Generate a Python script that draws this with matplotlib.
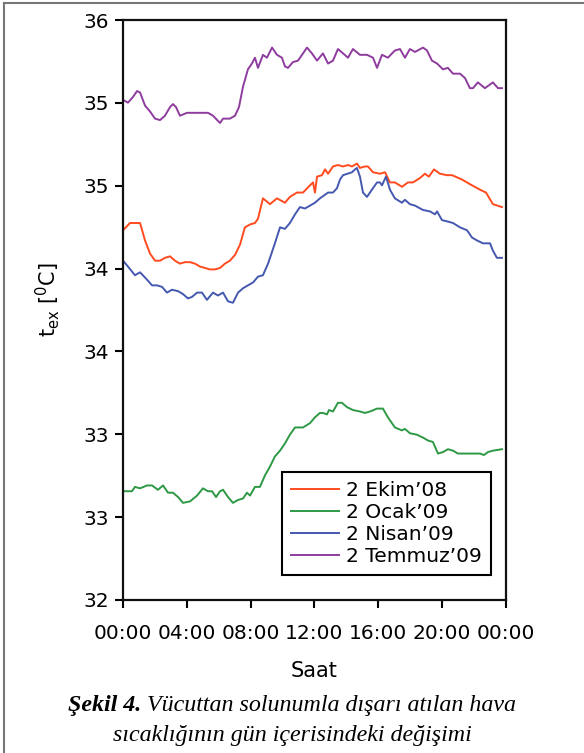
import numpy as np
from matplotlib import pyplot as plt
from matplotlib.lines import Line2D

plt.rcParams['font.family'] = 'DejaVu Sans'
plt.rcParams['mathtext.fontset'] = 'dejavusans'

# saat (0-24) ve sicaklik degerleri
t_ekim = [0, 0.44, 1.07, 1.38, 1.69, 2.01, 2.32, 2.63, 2.95, 3.26, 3.57, 3.88, 4.20, 4.51, 4.82,
          5.14, 5.45, 5.76, 6.08, 6.39, 6.70, 7.02, 7.33, 7.64, 7.96, 8.27, 8.46, 8.77, 9.21, 9.65,
          10.15, 10.46, 10.90, 11.28, 11.72, 11.91, 12.03, 12.16, 12.47, 12.66, 12.85, 13.16, 13.47,
          13.79, 14.10, 14.35, 14.66, 14.85, 15.16, 15.35, 15.67, 16.10, 16.42, 16.73, 17.04, 17.48,
          17.86, 18.17, 18.61, 18.92, 19.17, 19.49, 19.86, 20.30, 20.62, 21.24, 21.87, 22.37, 22.75,
          23.18, 23.75]
v_ekim = [34.55, 34.60, 34.60, 34.48, 34.39, 34.34, 34.34, 34.36, 34.37, 34.34, 34.32, 34.33, 34.33,
          34.32, 34.30, 34.29, 34.28, 34.28, 34.29, 34.32, 34.34, 34.38, 34.45, 34.57, 34.59, 34.60,
          34.63, 34.77, 34.73, 34.77, 34.74, 34.78, 34.81, 34.81, 34.86, 34.88, 34.81, 34.92, 34.93,
          34.97, 34.94, 34.99, 35.00, 34.99, 35.00, 34.99, 35.01, 34.98, 34.99, 34.99, 34.95, 34.94,
          34.95, 34.88, 34.88, 34.85, 34.88, 34.88, 34.91, 34.94, 34.92, 34.97, 34.94, 34.93, 34.93,
          34.90, 34.86, 34.83, 34.81, 34.73, 34.71]

t_ocak = [0, 0.56, 0.75, 1.07, 1.50, 1.82, 2.19, 2.51, 2.82, 3.13, 3.45, 3.76, 4.20, 4.64, 5.01,
          5.33, 5.58, 5.83, 6.08, 6.27, 6.58, 6.89, 7.21, 7.52, 7.77, 7.96, 8.27, 8.58, 8.90, 9.21,
          9.52, 9.84, 10.15, 10.46, 10.78, 11.09, 11.28, 11.72, 12.03, 12.34, 12.53, 12.78, 12.91,
          13.16, 13.47, 13.72, 14.04, 14.41, 14.85, 15.16, 15.48, 15.92, 16.29, 16.60, 17.04, 17.48,
          17.67, 17.98, 18.42, 18.80, 19.11, 19.42, 19.74, 20.05, 20.36, 20.68, 20.99, 21.56, 21.93,
          22.37, 22.62, 22.87, 23.18, 23.75]
v_ocak = [32.75, 32.75, 32.78, 32.77, 32.79, 32.79, 32.76, 32.79, 32.74, 32.74, 32.71, 32.67, 32.68,
          32.72, 32.77, 32.75, 32.75, 32.71, 32.75, 32.76, 32.71, 32.67, 32.69, 32.70, 32.74, 32.72,
          32.78, 32.78, 32.86, 32.92, 32.99, 33.03, 33.08, 33.14, 33.19, 33.19, 33.19, 33.22, 33.26,
          33.29, 33.29, 33.28, 33.31, 33.30, 33.36, 33.36, 33.33, 33.31, 33.30, 33.29, 33.30, 33.32,
          33.32, 33.26, 33.19, 33.17, 33.18, 33.15, 33.14, 33.12, 33.10, 33.09, 33.01, 33.02, 33.04,
          33.03, 33.01, 33.01, 33.01, 33.01, 33.00, 33.02, 33.03, 33.04]

t_nisan = [0, 0.31, 0.75, 1.07, 1.50, 1.82, 2.13, 2.44, 2.76, 3.07, 3.45, 3.76, 4.07, 4.32, 4.64,
           4.95, 5.26, 5.64, 5.95, 6.27, 6.58, 6.89, 7.21, 7.52, 7.83, 8.15, 8.46, 8.77, 9.09, 9.52,
           9.84, 10.15, 10.46, 10.78, 11.09, 11.40, 11.72, 12.03, 12.34, 12.85, 13.16, 13.41, 13.60,
           13.79, 14.35, 14.54, 14.66, 14.85, 15.04, 15.29, 15.60, 15.92, 16.10, 16.23, 16.48, 16.73,
           17.04, 17.48, 17.67, 17.98, 18.30, 18.80, 19.24, 19.55, 19.68, 19.99, 20.36, 20.68, 21.12,
           21.56, 21.87, 22.18, 22.56, 23.00, 23.18, 23.43, 23.75]
v_nisan = [34.34, 34.30, 34.24, 34.26, 34.21, 34.17, 34.17, 34.16, 34.12, 34.14, 34.13, 34.11, 34.08,
           34.09, 34.12, 34.12, 34.07, 34.12, 34.10, 34.12, 34.06, 34.05, 34.12, 34.15, 34.17, 34.19,
           34.23, 34.24, 34.32, 34.46, 34.57, 34.56, 34.60, 34.66, 34.71, 34.70, 34.72, 34.74, 34.77,
           34.81, 34.81, 34.84, 34.90, 34.93, 34.95, 34.97, 34.98, 34.92, 34.81, 34.78, 34.83, 34.88,
           34.88, 34.86, 34.92, 34.83, 34.77, 34.74, 34.76, 34.73, 34.72, 34.69, 34.68, 34.66, 34.68,
           34.62, 34.61, 34.60, 34.57, 34.55, 34.50, 34.48, 34.46, 34.46, 34.41, 34.36, 34.36]

t_temmuz = [0, 0.31, 0.63, 0.88, 1.07, 1.38, 1.69, 2.01, 2.32, 2.63, 2.95, 3.13, 3.32, 3.57, 4.01,
            4.39, 5.33, 5.64, 6.08, 6.27, 6.70, 7.02, 7.27, 7.52, 7.83, 8.08, 8.27, 8.46, 8.77, 9.02,
            9.34, 9.65, 9.96, 10.15, 10.34, 10.65, 10.97, 11.53, 11.84, 12.16, 12.53, 12.85, 13.16,
            13.47, 13.79, 14.10, 14.41, 14.85, 15.29, 15.67, 15.92, 16.23, 16.60, 17.04, 17.36, 17.67,
            17.98, 18.30, 18.80, 19.05, 19.36, 19.68, 20.05, 20.36, 20.68, 21.12, 21.43, 21.74, 21.93,
            22.24, 22.68, 23.18, 23.50, 23.75]
v_temmuz = [35.45, 35.43, 35.47, 35.51, 35.50, 35.41, 35.37, 35.32, 35.31, 35.34, 35.40, 35.42, 35.40,
            35.34, 35.36, 35.36, 35.36, 35.34, 35.29, 35.32, 35.32, 35.34, 35.40, 35.54, 35.66, 35.70,
            35.74, 35.67, 35.76, 35.74, 35.81, 35.76, 35.74, 35.68, 35.67, 35.71, 35.72, 35.81, 35.77,
            35.72, 35.77, 35.70, 35.72, 35.80, 35.77, 35.74, 35.80, 35.76, 35.76, 35.74, 35.67, 35.76,
            35.74, 35.79, 35.80, 35.74, 35.80, 35.78, 35.81, 35.79, 35.72, 35.70, 35.66, 35.67, 35.63,
            35.63, 35.60, 35.53, 35.53, 35.57, 35.53, 35.57, 35.53, 35.53]

labels = ['2 Ekim’08', '2 Ocak’09', '2 Nisan’09', '2 Temmuz’09']
c = ['#FF4B1F', '#2E9945', '#4558B0', '#8E3C9E']
xticks = [0, 4, 8, 12, 16, 20, 24]
xtick_labels = ['00:00', '04:00', '08:00', '12:00', '16:00', '20:00', '00:00']

fig = plt.figure(figsize=(5.84, 7.53), dpi=100)
ax = fig.add_axes([0.2106, 0.2032, 0.6558, 0.7702])

series = [(t_ekim, v_ekim), (t_ocak, v_ocak), (t_nisan, v_nisan), (t_temmuz, v_temmuz)]
for i, (t, v) in enumerate(series):
    ax.plot(t, v, color=c[i], linewidth=1.4, label=labels[i])

ax.set_xlim(0, 24)
ax.set_ylim(32, 36)
ax.set_xticks(xticks)
ax.set_xticklabels(xtick_labels)
yt = np.linspace(32, 36, 8)
ax.set_yticks(yt)
ax.set_yticklabels(['{:.0f}'.format(y) for y in yt])
ax.tick_params(direction='out', length=6, width=1.5, labelsize=14.5, colors='black')
ax.tick_params(axis='x', pad=11)
ax.tick_params(axis='y', pad=4)
for s in ax.spines.values():
    s.set_linewidth(1.6)
    s.set_color('#111111')

ax.set_ylabel(r'$\mathregular{t_{ex}}$ [$\mathregular{^0}$C]', fontsize=15)
ax.yaxis.set_label_coords(-0.16, 0.517)
ax.set_xlabel('Saat', fontsize=15)
ax.xaxis.set_label_coords(0.5, -0.105)

leg = ax.legend(loc='lower left', bbox_to_anchor=(0.415, 0.043), borderaxespad=0,
                fontsize=14.5, handlelength=2.4, handletextpad=0.35, labelspacing=0.15,
                borderpad=0.45, fancybox=False, framealpha=1)
leg.get_frame().set_edgecolor('black')
leg.get_frame().set_linewidth(1.5)

# alt yazi
fig.canvas.draw()
r = fig.canvas.get_renderer()
y1 = 1 - 706 / 753
y2 = 1 - 736 / 753
a = fig.text(0, y1, 'Şekil 4.', family='Liberation Serif', style='italic', weight='bold',
             fontsize=17.3, va='center')
b = fig.text(0, y1, ' Vücuttan solunumla dışarı atılan hava', family='Liberation Serif',
             style='italic', fontsize=17.3, va='center')
wa = a.get_window_extent(r).width
wb = b.get_window_extent(r).width
x0 = (584 - wa - wb) / 2 / 584
a.set_x(x0)
b.set_x(x0 + wa / 584)
fig.text(0.5, y2, 'sıcaklığının gün içerisindeki değişimi', family='Liberation Serif',
         style='italic', fontsize=17.3, va='center', ha='center')

# dis cerceve
fig.add_artist(Line2D([4 / 584, 4 / 584], [0, 1 - 3 / 753], color='#777777', linewidth=1.5))
fig.add_artist(Line2D([4 / 584, 1], [1 - 3 / 753, 1 - 3 / 753], color='#777777', linewidth=1.5))

plt.savefig('out.png', dpi=100)
